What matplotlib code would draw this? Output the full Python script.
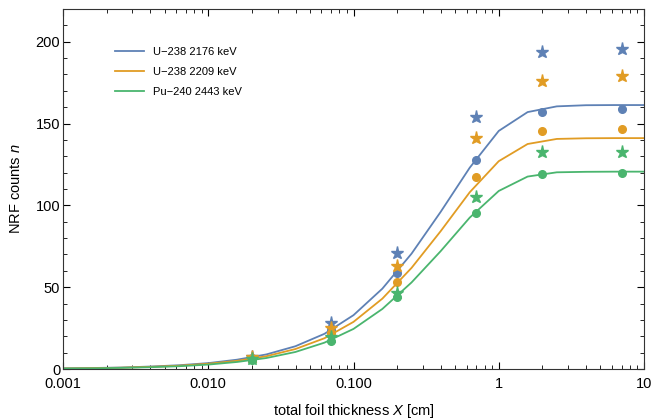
import matplotlib
matplotlib.use('Agg')
import matplotlib.pyplot as plt
import numpy as np
from matplotlib.ticker import LogLocator, MultipleLocator, NullFormatter

plt.rcParams['font.family'] = ['Liberation Sans', 'DejaVu Sans']
plt.rcParams['mathtext.fontset'] = 'custom'
plt.rcParams['mathtext.it'] = 'Liberation Sans:italic'
plt.rcParams['mathtext.rm'] = 'Liberation Sans'

# model curves (5 points per decade)
x_curve = [0.001, 0.00158, 0.00251, 0.00398, 0.00631, 0.01, 0.0158, 0.0251, 0.0398,
           0.0631, 0.1, 0.158, 0.251, 0.398, 0.631, 1.0, 1.58, 2.51, 3.98, 6.31, 10.0]
u2176_curve = [0.4, 0.6, 0.9, 1.5, 2.3, 3.6, 5.7, 8.9, 13.9, 21.5, 32.9, 49.1, 70.5,
               96.0, 123.0, 145.5, 157.0, 160.5, 161.2, 161.3, 161.3]
u2209_curve = [0.3, 0.5, 0.8, 1.3, 2.0, 3.2, 5.0, 7.8, 12.2, 18.8, 28.8, 43.0, 61.8,
               84.2, 108.0, 127.0, 137.5, 140.6, 141.0, 141.1, 141.1]
pu2443_curve = [0.3, 0.4, 0.7, 1.1, 1.7, 2.7, 4.3, 6.7, 10.4, 16.1, 24.5, 36.7, 52.9,
                72.0, 92.5, 108.8, 117.6, 120.2, 120.5, 120.6, 120.6]

# measured points
x_pts = [0.02, 0.07, 0.2, 0.7, 2.0, 7.0]
u2176_star = [7.6, 27.9, 70.7, 153.8, 193.8, 195.6]
u2209_star = [7.3, 24.8, 63.0, 141.0, 176.3, 178.8]
pu2443_star = [6.0, 19.7, 46.7, 105.0, 132.4, 132.8]
u2176_dot = [6.6, 24.0, 58.9, 127.8, 157.3, 158.7]
u2209_dot = [6.1, 21.8, 53.4, 117.2, 145.2, 146.7]
pu2443_dot = [5.2, 17.3, 43.8, 95.2, 119.0, 119.6]

labels = ['U\u2212238 2176 keV', 'U\u2212238 2209 keV', 'Pu\u2212240 2443 keV']
colors = ['#5E81B5', '#E19C24', '#4AB56E']

fig = plt.figure(figsize=(6.54, 4.19), dpi=100)
ax = fig.add_axes([63/654, 50/419, 581/654, 360/419])

curves = [u2176_curve, u2209_curve, pu2443_curve]
stars = [u2176_star, u2209_star, pu2443_star]
dots = [u2176_dot, u2209_dot, pu2443_dot]
for c, s, d, lab, col in zip(curves, stars, dots, labels, colors):
    ax.plot(x_curve, c, color=col, lw=1.3, label=lab)
    ax.plot(x_pts, s, ls='none', marker='*', ms=9.5, color=col, mec=col)
    ax.plot(x_pts, d, ls='none', marker='o', ms=5.5, color=col, mec=col)

ax.set_xscale('log')
ax.set_xlim(0.001, 10)
ax.set_ylim(0, 220)
ax.set_xticks([0.001, 0.01, 0.1, 1, 10], ['0.001', '0.010', '0.100', '1', '10'])
ax.xaxis.set_minor_locator(LogLocator(base=10, subs=np.arange(2, 10)))
ax.xaxis.set_minor_formatter(NullFormatter())
ax.yaxis.set_major_locator(MultipleLocator(50))
ax.yaxis.set_minor_locator(MultipleLocator(10))

ax.tick_params(which='both', direction='in', top=True, right=True, labelsize=10.5)
ax.tick_params(axis='x', pad=6)
ax.tick_params(axis='y', pad=2)
ax.tick_params(which='major', length=5, width=0.8)
ax.tick_params(which='minor', length=3, width=0.6)
for sp in ax.spines.values():
    sp.set_linewidth(0.8)
    sp.set_color('#333333')

ax.set_xlabel('total foil thickness $X$ [cm]', fontsize=10.5, labelpad=8)
ax.set_ylabel('NRF counts $n$', fontsize=10.5, labelpad=9)

ax.legend(loc='upper left', bbox_to_anchor=(0.09, 0.895), frameon=False,
          fontsize=8, handlelength=2.6, labelspacing=0.9, borderaxespad=0, borderpad=0)

fig.savefig('out.png', dpi=100)
